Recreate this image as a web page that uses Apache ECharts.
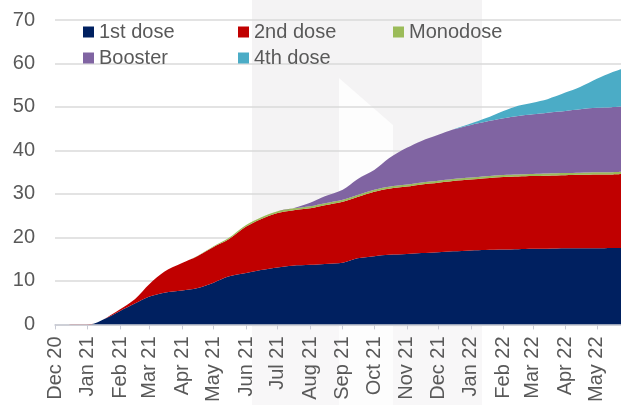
<!DOCTYPE html>
<html>
<head>
<meta charset="utf-8">
<script src="https://cdn.jsdelivr.net/npm/echarts@6/dist/echarts.min.js"></script>
<style>
  html, body { margin: 0; padding: 0; background: #fff; }
  #main { width: 621px; height: 405px; }
</style>
</head>
<body>
<div id="main"></div>
<script>
// sample dates
const dates = [
  "2020-12-01", "2020-12-28", "2021-01-05", "2021-01-15",
  "2021-02-01", "2021-02-15", "2021-03-01", "2021-03-15",
  "2021-04-01", "2021-04-15", "2021-05-01", "2021-05-15",
  "2021-06-01", "2021-06-15", "2021-07-01", "2021-07-15",
  "2021-08-01", "2021-08-15", "2021-09-01", "2021-09-15",
  "2021-10-01", "2021-10-15", "2021-11-01", "2021-11-15",
  "2021-12-01", "2021-12-15", "2022-01-01", "2022-01-15",
  "2022-02-01", "2022-02-15", "2022-03-01", "2022-03-15",
  "2022-04-01", "2022-04-15", "2022-05-01", "2022-05-15",
  "2022-05-24"
];

// millions, per dose type (stacked)
const firstDose = [
  0, 0, 0.05, 1.0, 3.1, 4.8, 6.4, 7.3, 7.8, 8.3, 9.6, 11.0,
  11.8, 12.5, 13.1, 13.5, 13.7, 13.9, 14.2, 15.2, 15.7, 16.0, 16.2, 16.4,
  16.6, 16.8, 17.0, 17.1, 17.2, 17.3, 17.4, 17.4, 17.5, 17.5, 17.5, 17.6,
  17.6
];
const secondDose = [
  0, 0.05, 0.05, 0, 0.4, 1.0, 2.9, 4.8, 6.3, 7.3, 8.2, 8.5,
  10.7, 11.7, 12.5, 12.7, 13.0, 13.5, 14.0, 14.1, 14.8, 15.2, 15.5, 15.8,
  16.0, 16.2, 16.3, 16.5, 16.7, 16.7, 16.7, 16.8, 16.8, 16.9, 17.0, 16.9,
  17.0
];
const monodose = [
  0, 0, 0, 0, 0, 0, 0, 0, 0, 0.1, 0.2, 0.3,
  0.35, 0.4, 0.42, 0.43, 0.45, 0.45, 0.45, 0.45, 0.45, 0.45, 0.45, 0.45,
  0.45, 0.45, 0.48, 0.48, 0.48, 0.5, 0.5, 0.5, 0.5, 0.5, 0.5, 0.5,
  0.5
];
const booster = [
  0, 0, 0, 0, 0, 0, 0, 0, 0, 0, 0, 0,
  0, 0, 0, 0, 0.8, 1.6, 2.3, 3.65, 4.55, 6.55, 8.45, 9.55,
  10.55, 11.35, 12.1, 12.5, 13.0, 13.4, 13.7, 14.0, 14.3, 14.6, 14.8, 14.95,
  15.0
];
const fourthDose = [
  0, 0, 0, 0, 0, 0, 0, 0, 0, 0, 0, 0,
  0, 0, 0, 0, 0, 0, 0, 0, 0, 0, 0, 0,
  0, 0, 0.3, 0.8, 1.7, 2.4, 2.7, 3.1, 4.2, 5.1, 6.7, 8.0,
  8.6
];

const seriesNames = ["1st dose", "2nd dose", "Monodose", "Booster", "4th dose"];
const seriesValues = [firstDose, secondDose, monodose, booster, fourthDose];
const colors = ["#002060", "#c00000", "#9bbb59", "#8064a2", "#4bacc6"];
const monthNames = ["Jan", "Feb", "Mar", "Apr", "May", "Jun",
                    "Jul", "Aug", "Sep", "Oct", "Nov", "Dec"];

const chart = echarts.init(document.getElementById("main"));

const font = "Liberation Sans, Arial, sans-serif";
const legendPos = [[83, 22], [238, 22], [393, 22], [83, 48], [238, 48]];

const option = {
  animation: false,
  color: colors,
  // faint watermark behind the plot
  graphic: [
    {
      type: "rect", z: -10, silent: true,
      shape: { x: 252, y: 0, width: 230, height: 327 },
      style: { fill: "#f4f3f4" }
    },
    {
      type: "rect", z: -10, silent: true,
      shape: { x: 252, y: 327, width: 230, height: 78 },
      style: { fill: "#f8f7f8" }
    },
    {
      type: "polygon", z: -9, silent: true,
      shape: { points: [[339, 78], [393, 125], [393, 405], [339, 405]] },
      style: { fill: "#fdfdfd" }
    }
  ],
  legend: seriesNames.map((n, i) => ({
    data: [n],
    left: legendPos[i][0],
    top: legendPos[i][1],
    padding: 0,
    itemWidth: 11,
    itemHeight: 11,
    itemGap: 0,
    icon: "rect",
    textStyle: { fontFamily: font, fontSize: 20, color: "#595959" }
  })),
  grid: { left: 55, right: 0, top: 20, bottom: 80 },
  xAxis: {
    type: "time",
    min: "2020-12-01",
    max: "2022-05-24",
    minInterval: 28 * 864e5,
    maxInterval: 31 * 864e5,
    axisLine: { show: true, lineStyle: { color: "#c8cad4", width: 1.5 } },
    axisTick: { show: true, length: 5, lineStyle: { color: "#c8cad4" } },
    splitLine: { show: false },
    axisLabel: {
      rotate: 90,
      margin: 12,
      fontFamily: font,
      fontSize: 20,
      color: "#595959",
      hideOverlap: false,
      formatter: function (value) {
        const d = new Date(value);
        return monthNames[d.getMonth()] + " " + String(d.getFullYear()).slice(2);
      }
    }
  },
  yAxis: {
    type: "value",
    min: 0,
    max: 70,
    interval: 10,
    axisLine: { show: false },
    axisTick: { show: false },
    splitLine: { lineStyle: { color: "#dadada", width: 1.5 } },
    axisLabel: { margin: 20, fontFamily: font, fontSize: 20, color: "#595959" }
  },
  series: seriesNames.map((n, i) => ({
    name: n,
    type: "line",
    stack: "doses",
    showSymbol: false,
    smooth: 0.3,
    lineStyle: { width: 0 },
    areaStyle: { color: colors[i], opacity: 1 },
    emphasis: { disabled: true },
    data: dates.map((d, j) => [d, seriesValues[i][j]])
  }))
};

chart.setOption(option);
</script>
</body>
</html>
